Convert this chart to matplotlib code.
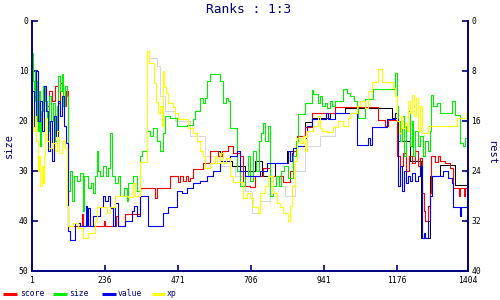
import numpy as np
import matplotlib
matplotlib.use("Agg")
import matplotlib.pyplot as plt
from matplotlib.lines import Line2D

NAVY = "#000080"

# ---------------- data (turn, rank on "size" scale) ----------------
score_x = [20, 36, 46, 56, 65, 75, 85, 91, 101, 110, 117, 162, 165, 232, 236, 271, 278, 300,
           349, 397, 403, 445, 471, 477, 487, 497, 503, 509, 519, 551, 574, 600, 612, 632,
           648, 670, 680, 703, 719, 744, 767, 809, 831, 841, 854, 880, 902, 976, 1114, 1137,
           1147, 1176, 1185, 1195, 1204, 1214, 1224, 1233, 1243, 1249, 1256, 1262, 1265,
           1275, 1282, 1285, 1298, 1307, 1314, 1330, 1346, 1356, 1375, 1378, 1391, 1394, 1404]
score_y = [16, 13.5, 17, 14, 16, 13, 16.5, 12.5, 17, 14, 41, 38.7, 41, 40, 41, 39, 41, 38.7,
           33.5, 35.5, 33.5, 31, 32.3, 31, 32, 31, 32, 31.5, 29.7, 28.5, 26, 27, 26, 25,
           26.5, 27, 33, 33.2, 31, 29.5, 31, 32.3, 30, 26, 23, 21.3, 18.5, 17.3, 19.8, 21,
           19.8, 27, 29, 26.5, 30, 27, 28.5, 26, 29, 27.5, 34.5, 38, 40,
           37, 34.5, 27, 28.3, 27, 28, 28.5, 29.5, 33.5, 35, 33.5, 35, 33.5, 33.5]

size_x = [1, 4, 7, 11, 14, 17, 20, 24, 27, 30, 36, 43, 49, 56, 62, 69, 75, 81, 85, 91, 98,
          101, 107, 114, 117, 123, 130, 136, 146, 155, 165, 168, 181, 191, 197, 204, 210,
          213, 220, 229, 239, 246, 252, 258, 268, 278, 284, 297, 307, 310, 326, 339, 349,
          355, 371, 381, 390, 403, 413, 423, 429, 445, 468, 500, 519, 526, 542, 551, 558,
          564, 574, 606, 616, 625, 632, 638, 661, 670, 686, 696, 703, 712, 722, 732, 738,
          744, 751, 760, 767, 777, 786, 796, 802, 812, 825, 841, 851, 857, 880, 902, 905,
          921, 928, 934, 944, 950, 960, 966, 976, 1002, 1015, 1024, 1037, 1047, 1050, 1073,
          1098, 1169, 1176, 1179, 1185, 1192, 1198, 1204, 1211, 1217, 1224, 1227, 1233,
          1243, 1249, 1259, 1265, 1275, 1282, 1285, 1291, 1304, 1314, 1352, 1362, 1378,
          1388, 1394, 1404]
size_y = [6.5, 12, 16, 10, 20, 12, 22, 14, 25, 18, 13, 16, 22, 15, 20, 16.5, 24, 17, 11, 14,
          10.7, 17, 13, 15, 34, 30, 36, 31, 32, 30.5, 38, 31, 33.5, 32.5, 34.5, 31, 26, 30,
          31, 29, 31, 29.5, 22.5, 31, 32.5, 31, 35, 33.5, 36, 32.5, 31, 34, 27, 26, 22, 23,
          21.5, 24, 26, 22.5, 19, 19.5, 21, 20.8, 19.7, 18, 15.5, 16.5, 15.5, 12, 10.7, 12,
          16.5, 15.5, 16, 21.5, 30, 33, 31, 27, 32, 26, 30, 24, 22.5, 20.5, 24, 21, 35, 33,
          31, 33, 30, 29, 31.5, 27, 24, 18.7, 16.5, 13.8, 14.6, 16.5, 15, 17, 16.5, 17.5,
          16, 17, 16, 13.7, 14.5, 15, 16, 17, 19.5, 15.7, 13.7, 10.5, 17, 20, 24, 19, 27,
          21, 18, 25, 20, 27, 22, 25, 23, 27, 24, 26, 22, 14.8, 17, 16.5, 18.5, 16, 18.8,
          24.5, 25, 23.5, 23.5]

value_x = [1, 7, 14, 20, 27, 33, 40, 46, 52, 59, 65, 72, 78, 85, 91, 98, 104, 110, 117, 123,
           139, 155, 175, 178, 181, 188, 197, 220, 229, 236, 246, 252, 262, 268, 278, 300,
           323, 329, 339, 349, 374, 423, 439, 468, 484, 500, 519, 542, 564, 583, 606, 638,
           661, 670, 686, 735, 757, 825, 831, 838, 841, 854, 880, 886, 902, 947, 954, 976,
           1047, 1082, 1089, 1095, 1143, 1169, 1176, 1179, 1185, 1192, 1198, 1204, 1211,
           1217, 1224, 1233, 1243, 1249, 1256, 1262, 1265, 1275, 1282, 1288, 1323, 1339,
           1352, 1356, 1378, 1381, 1401, 1404]
value_y = [14, 21, 10, 20, 16, 22, 13, 18, 26, 20, 28, 19, 23, 16, 19, 15, 21, 24.5, 42, 43.8,
           40.5, 41, 37, 41, 37.5, 41, 39, 37.3, 35, 36, 35, 37.5, 41, 36.5, 41, 40,
           38, 37, 39, 35, 41, 38.5, 37.2, 34, 34.5, 33.5, 32.5, 32, 31, 30, 28, 27,
           26, 30, 31, 30, 28.5, 26, 28, 26.5, 25.5, 25, 23.5, 21, 19.7, 18.5, 19.7, 18.5,
           24.9, 23.5, 24.9, 21.3, 19.7, 18.5, 19.7, 33, 29, 34, 30, 32.5, 31,
           32, 30.5, 32, 31, 29, 43.5, 42.5, 43.5, 40, 35, 31, 30, 31.5,
           32.5, 37.3, 39, 37.3, 36, 36]

xp_x = [1, 4, 11, 14, 20, 24, 27, 33, 36, 40, 43, 49, 56, 65, 75, 81, 88, 98, 107, 114, 117,
        133, 149, 165, 181, 204, 210, 242, 252, 268, 310, 326, 332, 349, 371, 378, 394, 400,
        406, 413, 419, 423, 426, 432, 439, 455, 461, 471, 503, 519, 532, 542, 551, 558, 574,
        590, 596, 606, 616, 625, 638, 648, 680, 693, 703, 712, 728, 735, 751, 760, 777, 789,
        799, 809, 825, 831, 838, 847, 854, 863, 873, 880, 886, 905, 921, 928, 934, 950, 970,
        986, 1002, 1018, 1024, 1047, 1056, 1073, 1082, 1095, 1114, 1127, 1163, 1169, 1176,
        1182, 1188, 1192, 1201, 1208, 1211, 1217, 1224, 1230, 1237, 1243, 1249, 1256, 1275,
        1368, 1397, 1404]
xp_y = [17, 22, 19, 24, 30, 27, 33, 29, 32.5, 27, 19.5, 24, 25.5, 24.5, 26, 22, 26.5, 24, 25.5,
        37, 41, 40.5, 41.5, 43.5, 42.5, 40, 37.2, 38.5, 37.2, 35, 35.3, 32.5, 35, 28.2, 6,
        8.5, 12.5, 16.2, 18.5, 17, 21, 10, 13.2, 14.5, 16.5, 17.2, 18.5, 19.7, 21.5, 22.5,
        24, 26, 27, 29.5, 28.5, 27, 28.5, 26.5, 28.5, 27.5, 31, 32.3, 35.5, 34.5, 35.5,
        37.2, 38.5, 34.5, 33, 31, 34.5, 36.5, 37.2, 38.5, 40, 37, 33, 28, 23.5, 24.5, 23,
        26, 22, 21, 19, 21.5, 22, 22.3, 21.2, 20, 21, 19.5, 18.5, 17, 16, 17.5, 14, 12.2,
        9.7, 12.2, 13.5, 15, 20, 22.5, 19, 21.5, 20.5, 22, 16, 18.5, 14.8, 19, 15.5, 22,
        17, 22.5, 21.1, 19.5, 18.5, 18.5]

rank_x = [574, 606, 645, 686, 719, 741, 783, 822, 854, 880, 902, 960, 1008, 1160, 1179, 1217,
          1253, 1282, 1314, 1362, 1404]
rank_y = [26, 28, 29, 30, 28, 31, 28.5, 26, 23, 20.2, 19.5, 18.5, 17.5, 19.5, 24, 28, 43.5,
          31, 28.8, 32.8, 32.8]

other_x = [381, 403, 413, 429, 461, 509, 558, 606, 654, 686, 709, 735, 767, 815, 847, 880,
           928, 976]
other_y = [7.5, 9, 15, 18, 20, 23, 27, 29, 31, 34, 38.5, 36, 33, 35, 30, 25, 23, 21]

x_ticks = [1, 236, 471, 706, 941, 1176, 1404]
size_ticks = [0, 10, 20, 30, 40, 50]
rest_ticks = [0, 8, 16, 24, 32, 40]

series = [("score", score_x, score_y, "#ff0000"),
          ("size", size_x, size_y, "#00f000"),
          ("value", value_x, value_y, "#0000ff"),
          ("xp", xp_x, xp_y, "#ffff00")]

# ---------------- figure ----------------
plt.rcParams["font.family"] = ["DejaVu Sans Mono"]
fig = plt.figure(figsize=(5, 3), dpi=100)
fig.patch.set_facecolor("white")
ax = fig.add_axes([0.064, 0.0967, 0.872, 0.8343])
ax.set_xlim(1, 1404)
ax.set_ylim(50, 0)

ax.plot(other_x, other_y, drawstyle="steps-post", color="#d8d8d8", lw=0.75)
ax.plot(rank_x, rank_y, drawstyle="steps-post", color="black", lw=0.75)
for name, xs, ys, col in series:
    ax.plot(xs, ys, drawstyle="steps-post", color=col, lw=0.8)

for s in ["top", "right"]:
    ax.spines[s].set_visible(False)
for s in ["left", "bottom"]:
    ax.spines[s].set_color(NAVY)
    ax.spines[s].set_linewidth(1.4)

ax.set_xticks(x_ticks)
ax.set_xticklabels([str(t) for t in x_ticks])
ax.set_yticks(size_ticks)
ax.tick_params(axis="both", direction="in", length=4, width=1.2, color=NAVY,
               labelsize=5.8, labelcolor="black")
ax.tick_params(axis="x", pad=3.5)
ax.tick_params(axis="y", pad=2.5)

ax2 = ax.twinx()
ax2.set_ylim(40, 0)
ax2.set_yticks(rest_ticks)
for s in ["top", "left", "bottom"]:
    ax2.spines[s].set_visible(False)
ax2.spines["right"].set_color(NAVY)
ax2.spines["right"].set_linewidth(1.4)
ax2.tick_params(axis="y", direction="in", length=4, width=1.2, color=NAVY,
                labelsize=5.8, labelcolor="black", pad=2.5)

fig.text(248.5 / 500, 1 - 12.7 / 300, "Ranks : 1:3", ha="center", va="baseline",
         color=NAVY, fontsize=9.3)
fig.text(9 / 500, 1 - 146 / 300, "size", rotation=90, ha="center", va="center",
         color=NAVY, fontsize=7.5)
fig.text(491.5 / 500, 1 - 153 / 300, "rest", rotation=270, ha="center", va="center",
         color=NAVY, fontsize=7.5)

# legend
leg_line_x = [(3, 17), (53, 67), (102, 116), (152, 165)]
leg_text_x = [20, 69, 118, 167]
for (name, xs, ys, col), (a, b), tx in zip(series, leg_line_x, leg_text_x):
    fig.add_artist(Line2D([a / 500, b / 500], [1 - 294 / 300] * 2, color=col, lw=2.2,
                          solid_capstyle="butt"))
    fig.text(tx / 500, 1 - 294 / 300, name, ha="left", va="center", color=NAVY,
             fontsize=5.8)

fig.savefig("out.png", dpi=100, facecolor="white")
